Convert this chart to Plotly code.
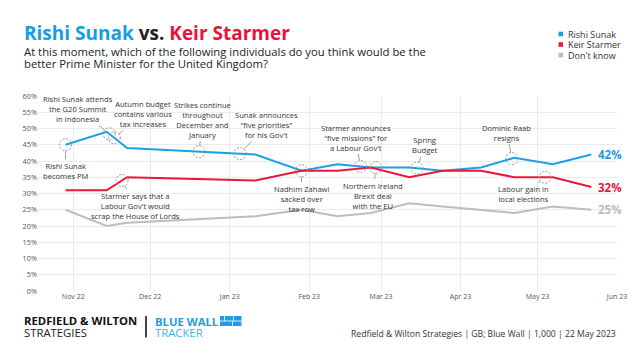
import plotly.graph_objects as go
import pandas as pd
import numpy as np

# ---------------- data ----------------
dates = ["2022-10-29", "2022-11-14", "2022-11-22", "2023-01-11", "2023-01-29",
         "2023-02-12", "2023-02-25", "2023-03-12", "2023-03-25", "2023-04-09",
         "2023-04-22", "2023-05-07", "2023-05-22"]
sunak = [45, 49, 44, 42, 37, 39, 38, 38, 37, 38, 41, 39, 42]
starmer = [31, 31, 35, 34, 37, 37, 38, 35, 37, 37, 35, 35, 32]
dont_know = [25, 20, 21, 23, 25, 23, 24, 27, 26, 25, 24, 26, 25]
series_names = ["Rishi Sunak", "Keir Starmer", "Don't know"]

tick_dates = ["2022-11-01", "2022-12-01", "2023-01-01", "2023-02-01",
              "2023-03-01", "2023-04-01", "2023-05-01", "2023-06-01"]
tick_labels = ["Nov 22", "Dec 22", "Jan 23", "Feb 23", "Mar 23", "Apr 23", "May 23", "Jun 23"]
y_ticks = list(range(0, 61, 5))
y_labels = [f"{v}%" for v in y_ticks]

event_dates = ["2022-10-29", "2022-11-15", "2022-11-17", "2022-11-20", "2022-12-20",
               "2023-01-05", "2023-01-29", "2023-02-21", "2023-02-27", "2023-03-15",
               "2023-04-21", "2023-05-04"]
event_series = ["Rishi Sunak", "Rishi Sunak", "Rishi Sunak", "Keir Starmer", "Rishi Sunak",
                "Rishi Sunak", "Rishi Sunak", "Rishi Sunak", "Rishi Sunak", "Rishi Sunak",
                "Rishi Sunak", "Keir Starmer"]
event_texts = ["Rishi Sunak<br>becomes PM",
               "Rishi Sunak attends<br>the G20 Summit<br>in Indonesia",
               "Autumn budget<br>contains various<br>tax increases",
               "Starmer says that a<br>Labour Gov't would<br>scrap the House of Lords",
               "Strikes continue<br>throughout<br>December and<br>January",
               "Sunak announces<br>“five priorities”<br>for his Gov't",
               "Nadhim Zahawi<br>sacked over<br>tax row",
               "Starmer announces<br>“five missions” for<br>a Labour Gov't",
               "Northern Ireland<br>Brexit deal<br>with the EU",
               "Spring<br>Budget",
               "Dominic Raab<br>resigns",
               "Labour gain in<br>local elections"]

# ---------------- styling / layout ----------------
W, H = 640, 360
L, R, T, B = 38, 23, 96, 69
PW, PH = W - L - R, H - T - B
FONT = "Open Sans"
BLUE, RED, GREY = "#1ba1e2", "#e8173c", "#bdbdbd"
colors = {"Rishi Sunak": BLUE, "Keir Starmer": RED, "Don't know": GREY}
values = {"Rishi Sunak": sunak, "Keir Starmer": starmer, "Don't know": dont_know}

# text offsets (ax, ay in px) for the event labels
event_offsets = [(0, 26), (-31, -25), (29, -24), (13, 25), (4, -32), (27, -29),
                 (0, 28), (-5, -29), (-3, 28), (8, -23), (-5, -26), (-22, 17)]


def px(xp):
    return (xp - L) / PW


def py(yp):
    return (H - B - yp) / PH


fig = go.Figure()
for name in ["Don't know", "Rishi Sunak", "Keir Starmer"]:
    fig.add_trace(go.Scatter(x=pd.to_datetime(dates), y=values[name], mode="lines",
                             name=name, line=dict(color=colors[name], width=2),
                             showlegend=False, hoverinfo="skip"))

# end labels
for name in series_names:
    fig.add_annotation(x=pd.to_datetime(dates[-1]), y=values[name][-1],
                       text=f"<b>{values[name][-1]}%</b>", showarrow=False,
                       xanchor="left", xshift=5, yanchor="middle",
                       font=dict(family=FONT, size=11.5, color=colors[name]))

# events
num_dates = pd.to_datetime(dates).map(pd.Timestamp.toordinal).to_numpy()
shapes = []
for d, s, txt, (ax, ay) in zip(event_dates, event_series, event_texts, event_offsets):
    dt = pd.Timestamp(d)
    yv = float(np.interp(dt.toordinal(), num_dates, values[s]))
    shapes.append(dict(type="circle", xref="x", yref="y", xsizemode="pixel", ysizemode="pixel",
                       xanchor=dt, yanchor=yv, x0=-6, x1=6, y0=-6, y1=6,
                       line=dict(color="#9a9a9a", width=1, dash="2px,1.5px"),
                       fillcolor="rgba(0,0,0,0)"))
    fig.add_annotation(x=dt, y=yv, ax=ax, ay=ay, text=txt, showarrow=True,
                       arrowhead=0, arrowwidth=0.8, arrowcolor="#8a8a8a", standoff=6,
                       font=dict(family=FONT, size=7.6, color="#333333"), align="center")

# title / subtitle
fig.add_annotation(xref="paper", yref="paper", x=px(22), y=py(33), xanchor="left", yanchor="middle",
                   showarrow=False,
                   text=f"<b><span style='color:#159fe3'>Rishi Sunak</span> vs. "
                        f"<span style='color:#e6133d'>Keir Starmer</span></b>",
                   font=dict(family=FONT, size=19, color="#222222"))
fig.add_annotation(xref="paper", yref="paper", x=px(22), y=py(52), xanchor="left", yanchor="middle",
                   showarrow=False,
                   text="At this moment, which of the following individuals do you think would be the",
                   font=dict(family=FONT, size=11.3, color="#222222"))
fig.add_annotation(xref="paper", yref="paper", x=px(22), y=py(64), xanchor="left", yanchor="middle",
                   showarrow=False,
                   text="better Prime Minister for the United Kingdom?",
                   font=dict(family=FONT, size=11.3, color="#222222"))

# manual legend
for i, name in enumerate(series_names):
    yc = 34 + i * 10.5
    shapes.append(dict(type="rect", xref="paper", yref="paper",
                       x0=px(558.5), x1=px(563), y0=py(yc + 2.3), y1=py(yc - 2.3),
                       fillcolor=colors[name], line=dict(width=0)))
    fig.add_annotation(xref="paper", yref="paper", x=px(566), y=py(yc), xanchor="left",
                       yanchor="middle", showarrow=False, text=name,
                       font=dict(family=FONT, size=9, color="#333333"))

# footer
fig.add_annotation(xref="paper", yref="paper", x=px(22), y=py(320), xanchor="left", yanchor="middle",
                   showarrow=False, text="<b>REDFIELD & WILTON</b>",
                   font=dict(family=FONT, size=11.3, color="#111111"))
fig.add_annotation(xref="paper", yref="paper", x=px(22), y=py(332), xanchor="left", yanchor="middle",
                   showarrow=False, text="STRATEGIES",
                   font=dict(family=FONT, size=11.3, color="#222222"))
shapes.append(dict(type="line", xref="paper", yref="paper", x0=px(146), x1=px(146),
                   y0=py(316), y1=py(337.5), line=dict(color="#444444", width=2)))
fig.add_annotation(xref="paper", yref="paper", x=px(152.5), y=py(321), xanchor="left", yanchor="middle",
                   showarrow=False, text="<b>BLUE WALL</b>",
                   font=dict(family=FONT, size=11.3, color="#1a9fe0"))
fig.add_annotation(xref="paper", yref="paper", x=px(152.5), y=py(332.3), xanchor="left", yanchor="middle",
                   showarrow=False, text="TRACKER",
                   font=dict(family=FONT, size=11.3, color="#45b2ea"))
bricks = [(220, 224, 316, 320.6), (224.8, 233.3, 316, 320.6), (234, 241.5, 316, 320.6),
          (220, 232, 321.4, 326), (232.8, 241.5, 321.4, 326)]
for x0, x1, y0, y1 in bricks:
    shapes.append(dict(type="rect", xref="paper", yref="paper", x0=px(x0), x1=px(x1),
                       y0=py(y1), y1=py(y0), fillcolor="#1a9fe0", line=dict(width=0)))
fig.add_annotation(xref="paper", yref="paper", x=px(618), y=py(334), xanchor="right", yanchor="middle",
                   showarrow=False,
                   text="Redfield & Wilton Strategies | GB; Blue Wall | 1,000 | 22 May 2023",
                   font=dict(family=FONT, size=8.6, color="#333333"))

fig.update_layout(
    width=W, height=H, margin=dict(l=L, r=R, t=T, b=B, pad=0),
    paper_bgcolor="white", plot_bgcolor="white",
    shapes=shapes, showlegend=False,
    xaxis=dict(type="date", range=["2022-10-18 06:00", "2023-06-01"],
               tickvals=pd.to_datetime(tick_dates), ticktext=tick_labels,
               showgrid=True, gridcolor="#ebebeb", gridwidth=1, zeroline=False,
               showline=False, ticks="", tickfont=dict(family=FONT, size=7, color="#555555")),
    yaxis=dict(range=[0, 60], tickvals=y_ticks, ticktext=y_labels,
               showgrid=True, gridcolor="#ebebeb", gridwidth=1, zeroline=False,
               showline=False, ticks="", tickfont=dict(family=FONT, size=7.3, color="#555555")),
)

fig.write_html("out.html", config={"displayModeBar": False},
               post_script="document.body.style.margin='0';document.body.style.overflow='hidden';")
